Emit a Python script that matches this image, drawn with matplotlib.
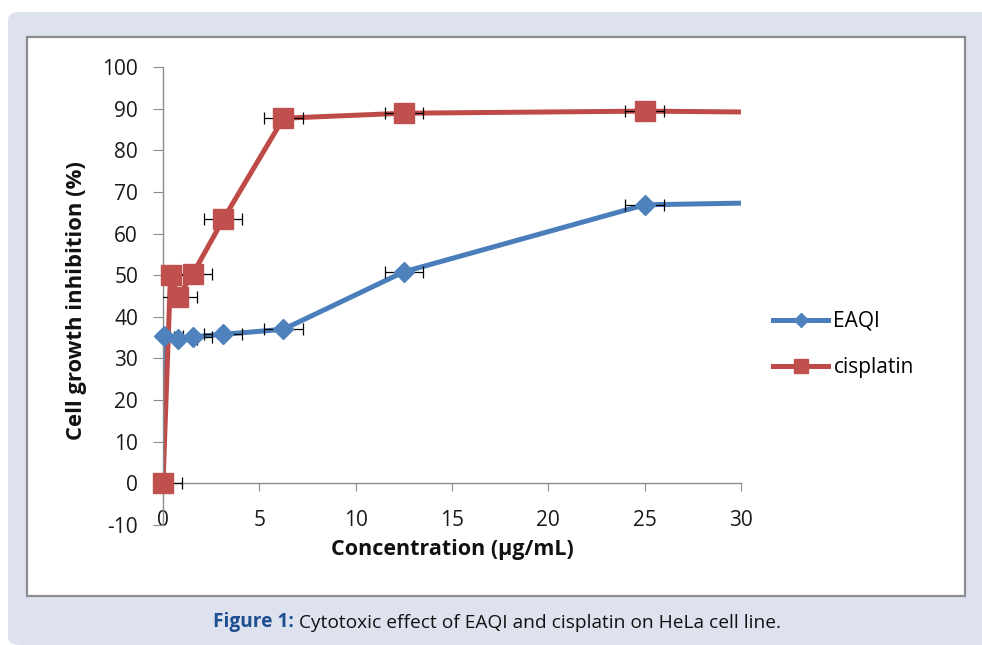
import matplotlib
matplotlib.use("Agg")
import matplotlib.pyplot as plt
from matplotlib.patches import FancyBboxPatch, Rectangle
import numpy as np

# ---- data ----
eaqi_x = [0, 0.05, 0.78, 1.56, 3.125, 6.25, 12.5, 25, 50]
eaqi_y = [0, 35.3, 34.6, 35.2, 35.8, 37.0, 50.8, 66.9, 68.9]
cis_x = [0, 0.39, 0.78, 1.56, 3.125, 6.25, 12.5, 25, 50]
cis_y = [0, 50.0, 44.8, 50.4, 63.4, 87.7, 88.9, 89.4, 88.4]
x_err = 1.0
x_ticks = [0, 5, 10, 15, 20, 25, 30]
y_ticks = [-10, 0, 10, 20, 30, 40, 50, 60, 70, 80, 90, 100]

blue = "#4a7ebb"
blue_m = "#4f81bd"
red = "#be4b48"
red_m = "#c0504d"

plt.rcParams['font.family'] = ['Open Sans', 'DejaVu Sans']
plt.rcParams['axes.unicode_minus'] = False

W, H = 982, 645
fig = plt.figure(figsize=(W / 100, H / 100), dpi=100)
fig.patch.set_facecolor("white")

# lavender page
bg = FancyBboxPatch((8 / W, 0), (W - 8) / W + 0.02, (H - 12) / H,
                    boxstyle="round,pad=0,rounding_size=0.012",
                    transform=fig.transFigure, facecolor="#dee2ef",
                    edgecolor="none", zorder=-10)
fig.patches.append(bg)
# white chart box
box = Rectangle((27 / W, (H - 596) / H), (965 - 27) / W, (596 - 37) / H,
                transform=fig.transFigure, facecolor="white",
                edgecolor="#8c8c8c", linewidth=1.6, zorder=-9)
fig.patches.append(box)

ax = fig.add_axes([163 / W, (H - 525) / H, 578 / W, (525 - 67) / H])
ax.set_facecolor("none")
ax.set_xlim(0, 30)
ax.set_ylim(-10, 100)

for s in ["top", "right"]:
    ax.spines[s].set_visible(False)
ax.spines["left"].set_color("#8c8c8c")
ax.spines["bottom"].set_color("#8c8c8c")
ax.spines["bottom"].set_position(("data", 0))
ax.spines["left"].set_linewidth(1.0)
ax.spines["bottom"].set_linewidth(1.0)

ax.set_xticks(x_ticks)
ax.set_yticks(y_ticks)
ax.tick_params(axis="x", direction="out", length=6, color="#8c8c8c",
               labelsize=15, pad=13)
ax.tick_params(axis="y", direction="out", length=7, color="#8c8c8c",
               labelsize=15, pad=11)
for lb in ax.get_xticklabels() + ax.get_yticklabels():
    lb.set_color("#1a1a1a")

# lines (clipped)
ax.plot(eaqi_x, eaqi_y, color=blue, lw=3.6, zorder=2, solid_capstyle="butt")
ax.plot(cis_x, cis_y, color=red, lw=3.6, zorder=2, solid_capstyle="butt")

# error bars
ex = np.array(eaqi_x); ey = np.array(eaqi_y)
cx = np.array(cis_x); cy = np.array(cis_y)
me = ex <= 30
mc = cx <= 30
ax.errorbar(ex[me][1:], ey[me][1:], xerr=x_err, fmt="none", ecolor="black",
            elinewidth=0.9, capsize=4, capthick=0.9, zorder=3)
ax.errorbar(cx[mc], cy[mc], xerr=x_err, fmt="none", ecolor="black",
            elinewidth=0.9, capsize=4, capthick=0.9, zorder=3)

# markers
ax.plot(ex[me][1:], ey[me][1:], ls="none", marker="D", ms=10.5, color=blue_m,
        mec=blue_m, zorder=4, clip_on=False)
ax.plot(cx[mc], cy[mc], ls="none", marker="s", ms=14, color=red_m,
        mec=red_m, zorder=4, clip_on=False)

# legend handles
lh1, = ax.plot([], [], color=blue, lw=3.6, marker="D", ms=7, mfc=blue_m, mec=blue_m)
lh2, = ax.plot([], [], color=red, lw=3.6, marker="s", ms=10, mfc=red_m, mec=red_m)
fig.legend([lh1, lh2], ["EAQI", "cisplatin"], loc="upper left",
           bbox_to_anchor=(773 / W, (H - 311) / H), frameon=False,
           fontsize=15, handlelength=2.65, handletextpad=0.25,
           labelspacing=1.2, borderpad=0, borderaxespad=0)

ax.set_xlabel("Concentration (µg/mL)", fontsize=15.5, fontweight="bold",
              labelpad=0, color="#111111")
ax.xaxis.set_label_coords(0.5, -0.031)
ax.set_ylabel("Cell growth inhibition (%)", fontsize=15.8, fontweight="bold",
              color="#111111")
ax.yaxis.set_label_coords(-0.131, 0.49)

# caption
cap_fam = ['Liberation Sans Narrow', 'Open Sans', 'DejaVu Sans']
t1 = fig.text(213 / W, (H - 622) / H, "Figure 1:", fontsize=13.8,
              fontweight="bold", color="#1d4f91", family=cap_fam,
              ha="left", va="center")
fig.canvas.draw()
t2 = ax.annotate(" Cytotoxic effect of EAQI and cisplatin on HeLa cell line.",
                 xy=(1, 0), xycoords=t1, fontsize=13.8, color="#111111",
                 family=cap_fam, ha="left", va="bottom", annotation_clip=False)

fig.savefig("out.png", dpi=100)
